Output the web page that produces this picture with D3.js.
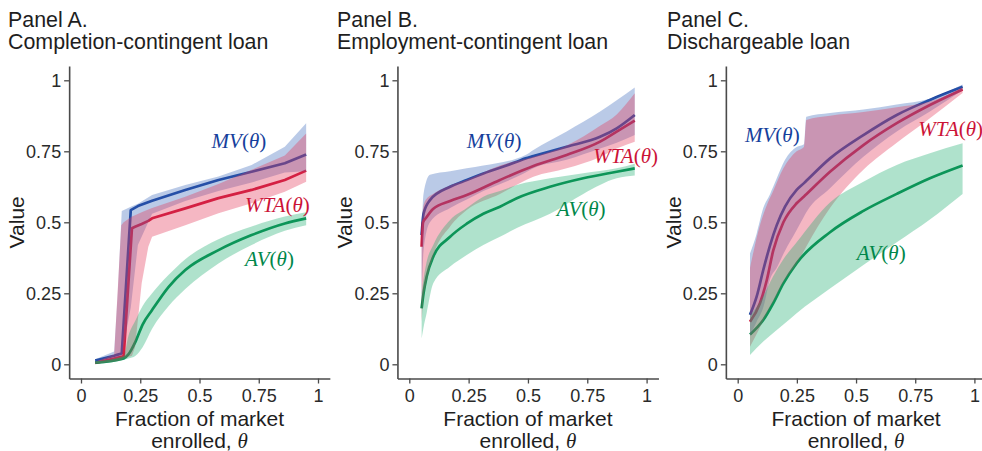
<!DOCTYPE html>
<html>
<head>
<meta charset="utf-8">
<script src="https://cdn.jsdelivr.net/npm/d3@7"></script>
<style>
  html, body { margin: 0; padding: 0; background: #fff; }
  svg { display: block; }
</style>
</head>
<body>
<svg id="chart" width="982" height="451"></svg>
<script>
// ---- Data -------------------------------------------------------------
// Each row: [theta, estimate, lower bound, upper bound]

const panelTitles = ["Panel A.", "Panel B.", "Panel C."];
const panelSubtitles = ["Completion-contingent loan", "Employment-contingent loan", "Dischargeable loan"];

const xTicks = [0, 0.25, 0.5, 0.75, 1];
const xTickLabels = ["0", "0.25", "0.5", "0.75", "1"];
const yTicks = [0, 0.25, 0.5, 0.75, 1];
const yTickLabels = ["0", "0.25", "0.5", "0.75", "1"];

// Panel A: completion-contingent loan
const mvA = [
  [0.06, 0.013, 0.008, 0.018],
  [0.14, 0.030, 0.020, 0.045],
  [0.155, 0.034, 0.025, 0.25],
  [0.172, 0.038, 0.030, 0.54],
  [0.21, 0.543, 0.20, 0.555],
  [0.24, 0.557, 0.42, 0.565],
  [0.30, 0.576, 0.53, 0.596],
  [0.44, 0.614, 0.575, 0.631],
  [0.58, 0.649, 0.61, 0.661],
  [0.72, 0.678, 0.64, 0.702],
  [0.86, 0.708, 0.675, 0.766],
  [0.95, 0.739, 0.68, 0.849]
];
const wtaA = [
  [0.06, 0.005, 0.002, 0.008],
  [0.14, 0.020, 0.010, 0.035],
  [0.17, 0.026, 0.015, 0.49],
  [0.18, 0.028, 0.020, 0.50],
  [0.215, 0.479, 0.030, 0.52],
  [0.228, 0.484, 0.060, 0.525],
  [0.256, 0.494, 0.285, 0.535],
  [0.284, 0.505, 0.414, 0.545],
  [0.30, 0.514, 0.449, 0.55],
  [0.44, 0.549, 0.49, 0.59],
  [0.58, 0.585, 0.532, 0.635],
  [0.72, 0.614, 0.567, 0.685],
  [0.86, 0.649, 0.608, 0.735],
  [0.95, 0.682, 0.643, 0.813]
];
const avA = [
  [0.06, 0.006, 0.002, 0.010],
  [0.18, 0.021, 0.015, 0.030],
  [0.20, 0.035, 0.020, 0.10],
  [0.23, 0.080, 0.030, 0.155],
  [0.26, 0.140, 0.060, 0.205],
  [0.30, 0.191, 0.125, 0.25],
  [0.37, 0.273, 0.205, 0.315],
  [0.44, 0.332, 0.265, 0.37],
  [0.58, 0.402, 0.355, 0.44],
  [0.72, 0.455, 0.42, 0.485],
  [0.86, 0.496, 0.47, 0.52],
  [0.95, 0.514, 0.49, 0.535]
];

// Panel B: employment-contingent loan
const mvB = [
  [0.052, 0.455, 0.20, 0.46],
  [0.06, 0.53, 0.40, 0.60],
  [0.087, 0.578, 0.50, 0.667],
  [0.172, 0.625, 0.55, 0.68],
  [0.242, 0.649, 0.58, 0.69],
  [0.312, 0.672, 0.61, 0.70],
  [0.453, 0.713, 0.66, 0.725],
  [0.49, 0.725, 0.675, 0.737],
  [0.523, 0.733, 0.69, 0.755],
  [0.663, 0.766, 0.72, 0.82],
  [0.804, 0.801, 0.76, 0.89],
  [0.874, 0.831, 0.78, 0.93],
  [0.95, 0.878, 0.807, 0.975]
];
const wtaB = [
  [0.052, 0.414, 0.15, 0.45],
  [0.058, 0.50, 0.22, 0.55],
  [0.07, 0.515, 0.28, 0.58],
  [0.10, 0.547, 0.379, 0.60],
  [0.172, 0.575, 0.485, 0.63],
  [0.242, 0.596, 0.543, 0.65],
  [0.382, 0.649, 0.60, 0.70],
  [0.523, 0.698, 0.66, 0.731],
  [0.663, 0.737, 0.69, 0.77],
  [0.804, 0.784, 0.73, 0.84],
  [0.874, 0.819, 0.76, 0.88],
  [0.95, 0.858, 0.784, 0.954]
];
const avB = [
  [0.052, 0.197, 0.091, 0.25],
  [0.06, 0.25, 0.13, 0.30],
  [0.073, 0.308, 0.18, 0.36],
  [0.101, 0.379, 0.285, 0.42],
  [0.172, 0.449, 0.344, 0.508],
  [0.242, 0.495, 0.385, 0.55],
  [0.312, 0.53, 0.42, 0.59],
  [0.382, 0.555, 0.449, 0.61],
  [0.453, 0.585, 0.48, 0.631],
  [0.593, 0.625, 0.53, 0.655],
  [0.733, 0.655, 0.60, 0.673],
  [0.874, 0.678, 0.655, 0.69],
  [0.95, 0.69, 0.665, 0.706]
];

// Panel C: dischargeable loan
const mvC = [
  [0.052, 0.174, 0.10, 0.39],
  [0.08, 0.238, 0.15, 0.46],
  [0.108, 0.332, 0.20, 0.55],
  [0.137, 0.42, 0.30, 0.60],
  [0.165, 0.49, 0.34, 0.655],
  [0.20, 0.555, 0.40, 0.72],
  [0.249, 0.614, 0.473, 0.765],
  [0.28, 0.638, 0.52, 0.775],
  [0.29, 0.646, 0.535, 0.872],
  [0.39, 0.725, 0.62, 0.885],
  [0.531, 0.807, 0.731, 0.897],
  [0.672, 0.878, 0.82, 0.915],
  [0.812, 0.931, 0.89, 0.935],
  [0.95, 0.977, 0.965, 0.985]
];
const wtaC = [
  [0.052, 0.15, 0.062, 0.34],
  [0.094, 0.215, 0.13, 0.49],
  [0.123, 0.297, 0.18, 0.56],
  [0.15, 0.40, 0.22, 0.61],
  [0.193, 0.50, 0.29, 0.69],
  [0.249, 0.567, 0.355, 0.75],
  [0.28, 0.591, 0.40, 0.765],
  [0.29, 0.599, 0.415, 0.86],
  [0.39, 0.678, 0.55, 0.875],
  [0.531, 0.772, 0.685, 0.888],
  [0.672, 0.849, 0.78, 0.905],
  [0.812, 0.913, 0.866, 0.925],
  [0.95, 0.968, 0.955, 0.975]
];
const avC = [
  [0.052, 0.105, 0.033, 0.17],
  [0.108, 0.156, 0.08, 0.24],
  [0.15, 0.215, 0.11, 0.31],
  [0.193, 0.285, 0.14, 0.37],
  [0.249, 0.356, 0.18, 0.43],
  [0.39, 0.465, 0.267, 0.57],
  [0.531, 0.54, 0.35, 0.643],
  [0.672, 0.60, 0.43, 0.702],
  [0.812, 0.655, 0.51, 0.743],
  [0.95, 0.70, 0.60, 0.778]
];

// Label anchor points (theta, value) for the curve names
const labelPosA = { mv: [0.551, 0.762], wta: [0.692, 0.537], av: [0.692, 0.346] };
const labelPosB = { mv: [0.242, 0.761], wta: [0.775, 0.709], av: [0.621, 0.522] };
const labelPosC = { mv: [0.031, 0.784], wta: [0.763, 0.804], av: [0.503, 0.367] };

// ---- Styling ----------------------------------------------------------
const seriesStyle = {
  mv:  { line: "#163f9c", fill: "#3f6dbd", name: "MV" },
  wta: { line: "#cc1337", fill: "#e2385a", name: "WTA" },
  av:  { line: "#00874a", fill: "#22b073", name: "AV" }
};
const bandOpacity = 0.36;
const sansFont = "'Liberation Sans', Arial, Helvetica, sans-serif";
const serifFont = "'Liberation Serif', 'Times New Roman', serif";
const smooth = d3.curveMonotoneX;
const straight = d3.curveLinear;

const panels = [
  { title: panelTitles[0], sub: panelSubtitles[0], series: { mv: mvA, wta: wtaA, av: avA }, labels: labelPosA,
    zeroX: 81.0, unitX: 237.0, titleX: 8, curves: { mv: straight, wta: straight, av: smooth } },
  { title: panelTitles[1], sub: panelSubtitles[1], series: { mv: mvB, wta: wtaB, av: avB }, labels: labelPosB,
    zeroX: 409.3, unitX: 237.3, titleX: 337, curves: { mv: smooth, wta: smooth, av: smooth } },
  { title: panelTitles[2], sub: panelSubtitles[2], series: { mv: mvC, wta: wtaC, av: avC }, labels: labelPosC,
    zeroX: 737.7, unitX: 236.7, titleX: 667, curves: { mv: smooth, wta: smooth, av: smooth } }
];

const svg = d3.select("#chart");
const yScale = d3.scaleLinear().domain([-0.05, 1.05]).range([378.5, 66.1]);

panels.forEach(p => {
  const xScale = d3.scaleLinear()
    .domain([-0.05, 1.05])
    .range([p.zeroX - 0.05 * p.unitX, p.zeroX + 1.05 * p.unitX]);

  const g = svg.append("g");

  // Titles
  g.append("text").attr("x", p.titleX).attr("y", 27.3)
    .attr("font-family", sansFont).attr("font-size", 21.4).attr("fill", "#1e1e1e")
    .text(p.title);
  g.append("text").attr("x", p.titleX).attr("y", 49.3)
    .attr("font-family", sansFont).attr("font-size", 21.4).attr("fill", "#1e1e1e")
    .text(p.sub);

  const keys = ["mv", "wta", "av"];
  const lineGen = k => d3.line().curve(p.curves[k]).x(d => xScale(d[0])).y(d => yScale(d[1]));
  const areaGen = k => d3.area().curve(p.curves[k]).x(d => xScale(d[0])).y0(d => yScale(d[2])).y1(d => yScale(d[3]));

  // Estimate lines sit underneath the translucent confidence bands
  keys.forEach(k => {
    g.append("path").datum(p.series[k])
      .attr("d", lineGen(k))
      .attr("fill", "none")
      .attr("stroke", seriesStyle[k].line)
      .attr("stroke-width", 2.7)
      .attr("stroke-linejoin", "round");
  });
  keys.forEach(k => {
    g.append("path").datum(p.series[k])
      .attr("d", areaGen(k))
      .attr("fill", seriesStyle[k].fill)
      .attr("fill-opacity", bandOpacity)
      .attr("stroke", "none");
  });

  // Curve names, e.g. MV(θ)
  keys.forEach(k => {
    const pos = p.labels[k];
    const t = g.append("text")
      .attr("x", xScale(pos[0])).attr("y", yScale(pos[1]))
      .attr("font-family", serifFont).attr("font-size", 21)
      .attr("fill", seriesStyle[k].line);
    t.append("tspan").attr("font-style", "italic").text(seriesStyle[k].name);
    t.append("tspan").text("(");
    t.append("tspan").attr("font-style", "italic").text("θ");
    t.append("tspan").text(")");
  });

  // Axes
  const axisColor = "#4a4a4a";
  const xAxis = d3.axisBottom(xScale).tickValues(xTicks)
    .tickFormat((d, i) => xTickLabels[i]).tickSize(5).tickSizeOuter(0).tickPadding(6);
  const yAxis = d3.axisLeft(yScale).tickValues(yTicks)
    .tickFormat((d, i) => yTickLabels[i]).tickSize(5).tickSizeOuter(0).tickPadding(3);

  const gx = g.append("g").attr("transform", `translate(0,${yScale(-0.05)})`).call(xAxis);
  const gy = g.append("g").attr("transform", `translate(${xScale(-0.05)},0)`).call(yAxis);
  [gx, gy].forEach(ax => {
    ax.select(".domain").attr("stroke", axisColor).attr("stroke-width", 1.6);
    ax.selectAll(".tick line").attr("stroke", axisColor).attr("stroke-width", 1.3);
    ax.selectAll(".tick text").attr("font-family", sansFont).attr("font-size", 18).attr("fill", "#2a2a2a");
  });

  // Axis titles
  const cx = xScale(0.5);
  g.append("text").attr("x", cx).attr("y", 425.7).attr("text-anchor", "middle")
    .attr("font-family", sansFont).attr("font-size", 21).attr("fill", "#1e1e1e")
    .text("Fraction of market");
  const t2 = g.append("text").attr("x", cx).attr("y", 447.5).attr("text-anchor", "middle")
    .attr("font-family", sansFont).attr("font-size", 21).attr("fill", "#1e1e1e");
  t2.append("tspan").text("enrolled, ");
  t2.append("tspan").attr("font-family", serifFont).attr("font-style", "italic").text("θ");

  g.append("text")
    .attr("transform", `translate(${xScale(-0.05) - 45},${yScale(0.5)}) rotate(-90)`)
    .attr("text-anchor", "middle")
    .attr("font-family", sansFont).attr("font-size", 21).attr("fill", "#1e1e1e")
    .text("Value");
});
</script>
</body>
</html>
